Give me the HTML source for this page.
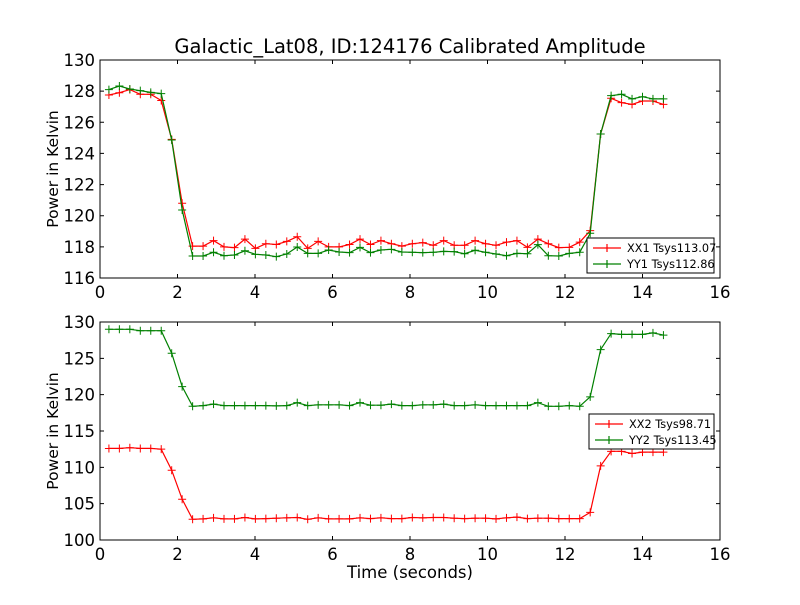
<!DOCTYPE html>
<html><head><meta charset="utf-8"><style>
body{margin:0;background:#fff;}
svg text{font-family:"DejaVu Sans","Liberation Sans",sans-serif;}
</style></head><body>
<svg id="c" width="800" height="600" xmlns="http://www.w3.org/2000/svg">
<rect width="800" height="600" fill="#fff"/>
<text x="410" y="53" font-size="19.5" text-anchor="middle">Galactic_Lat08, ID:124176 Calibrated Amplitude</text>
</svg>
<script>
const times = Array.from({length:54},(_,i)=>+(0.23+i*0.27).toFixed(3));
const xx1 = [127.75,127.9,128.1,127.8,127.8,127.4,124.9,120.8,118.05,118.05,118.4,118.0,117.95,118.5,117.9,118.2,118.15,118.35,118.65,117.9,118.35,118.0,118.0,118.15,118.5,118.15,118.4,118.2,118.05,118.2,118.27,118.1,118.4,118.1,118.1,118.4,118.2,118.1,118.3,118.4,117.97,118.5,118.2,117.95,117.97,118.3,119.04,125.25,127.54,127.26,127.15,127.37,127.37,127.15];
const yy1 = [128.1,128.33,128.14,128.03,127.92,127.84,124.86,120.37,117.41,117.41,117.65,117.43,117.48,117.75,117.52,117.48,117.37,117.54,117.99,117.58,117.58,117.8,117.67,117.63,117.97,117.63,117.8,117.84,117.67,117.65,117.63,117.65,117.71,117.69,117.56,117.78,117.65,117.54,117.43,117.58,117.56,118.14,117.43,117.41,117.58,117.65,118.87,125.25,127.71,127.8,127.5,127.64,127.5,127.5];
const xx2 = [112.6,112.6,112.7,112.6,112.6,112.5,109.6,105.6,102.85,102.9,103.05,102.9,102.9,103.1,102.9,102.95,103.0,103.05,103.1,102.85,103.05,102.9,102.9,102.9,103.05,102.95,103.05,102.95,102.95,103.1,103.05,103.1,103.1,103.0,102.95,103.0,103.0,102.9,103.05,103.15,102.95,103.0,103.0,102.95,102.95,102.95,103.8,110.2,112.2,112.2,111.9,112.1,112.1,112.1];
const yy2 = [129.0,129.0,129.0,128.8,128.8,128.8,125.7,121.1,118.4,118.5,118.7,118.5,118.5,118.5,118.5,118.5,118.45,118.5,118.9,118.5,118.6,118.6,118.6,118.5,118.9,118.55,118.55,118.7,118.5,118.5,118.6,118.6,118.7,118.5,118.5,118.6,118.5,118.5,118.5,118.5,118.5,118.9,118.4,118.4,118.5,118.4,119.7,126.2,128.4,128.3,128.3,128.3,128.5,128.2];
const xTicks = [0,2,4,6,8,10,12,14,16];
const yTicksTop = [116,118,120,122,124,126,128,130];
const yTicksBot = [100,105,110,115,120,125,130];
const legendTop = ["XX1 Tsys113.07","YY1 Tsys112.86"];
const legendBot = ["XX2 Tsys98.71","YY2 Tsys113.45"];

const svg=document.getElementById('c');
const NS='http://www.w3.org/2000/svg';
function mk(tag,attrs,parent){const e=document.createElementNS(NS,tag);for(const k in attrs)e.setAttribute(k,attrs[k]);(parent||svg).appendChild(e);return e;}
const X0=100,X1=720;
const xs=v=>X0+(v-0)/(16-0)*(X1-X0);

function panel(name,top,bot,ymin,ymax,yt,s1,s2,leg,lx,ly,showXLabel){
  const ys=v=>bot-(v-ymin)/(ymax-ymin)*(bot-top);
  const g=mk('g',{});
  
  
  mk('rect',{x:X0,y:top,width:X1-X0,height:bot-top,fill:'#fff',stroke:'none'},g);
  [[s1,'#ff0000','xx'],[s2,'#008000','yy']].forEach(([s,col,nm])=>{
    const pts=s.map((v,i)=>xs(times[i]).toFixed(1)+','+ys(v).toFixed(1)).join(' ');
    const pl=mk('polyline',{points:pts,fill:'none',stroke:col,'stroke-width':1.2},g);
    
    
    s.forEach((v,i)=>{const x=xs(times[i]),y=ys(v);
      const m=mk('path',{d:`M${x-4},${y}H${x+4}M${x},${y-4}V${y+4}`,stroke:col,'stroke-width':1},g);
      
      
    });
  });
  mk('rect',{x:X0,y:top,width:X1-X0,height:bot-top,fill:'none',stroke:'#000','stroke-width':1},g);
  xTicks.forEach(t=>{const x=xs(t);
    mk('path',{d:`M${x},${bot}v-4M${x},${top}v4`,stroke:'#000'},g);
    const tx=mk('text',{x:x,y:bot+20,'font-size':16.5,'text-anchor':'middle'},g);tx.textContent=t;
    
    
  });
  yt.forEach(t=>{const y=ys(t);
    mk('path',{d:`M${X0},${y}h4M${X1},${y}h-4`,stroke:'#000'},g);
    const tx=mk('text',{x:X0-5,y:y+6,'font-size':16.5,'text-anchor':'end'},g);tx.textContent=t;
    
    
  });
  const yl=mk('text',{x:58,y:(top+bot)/2,'font-size':15.5,'text-anchor':'middle',transform:`rotate(-90 58 ${(top+bot)/2})`},g);
  yl.textContent='Power in Kelvin';
  
  
  const lg=mk('g',{},g);
  
  
  const lw=lx[1]-lx[0];
  mk('rect',{x:lx[0],y:ly,width:lw,height:35,fill:'#fff',stroke:'#000','stroke-width':1},lg);
  leg.forEach((l,i)=>{const yy=ly+10+i*16;const col=i?'#008000':'#ff0000';
    mk('path',{d:`M${lx[0]+6},${yy}h28M${lx[0]+20},${yy-4}v8`,stroke:col,'stroke-width':1.2},lg);
    const t=mk('text',{x:lx[0]+40,y:yy+4,'font-size':11.3},lg);t.textContent=l;
    
    
  });
  if(showXLabel){const t=mk('text',{x:410,y:578,'font-size':16.5,'text-anchor':'middle'},g);t.textContent='Time (seconds)';
    
    }
}
panel('top-panel',60,278,116,130,yTicksTop,xx1,yy1,legendTop,[587,714],238,false);
panel('bottom-panel',322,540,100,130,yTicksBot,xx2,yy2,legendBot,[589,714],414,true);
</script>
</body></html>
